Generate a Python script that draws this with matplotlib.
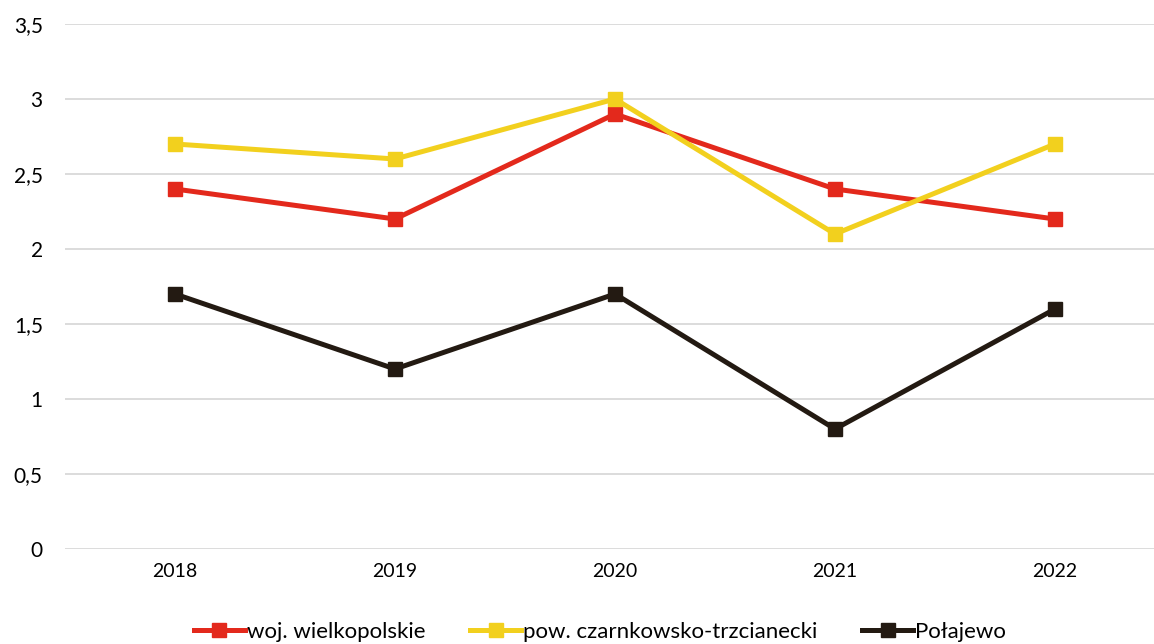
import matplotlib.pyplot as plt

years = ["2018", "2019", "2020", "2021", "2022"]
woj = [2.4, 2.2, 2.9, 2.4, 2.2]
pow_ct = [2.7, 2.6, 3.0, 2.1, 2.7]
polajewo = [1.7, 1.2, 1.7, 0.8, 1.6]
yticks = [0, 0.5, 1, 1.5, 2, 2.5, 3, 3.5]

series = [
    ("woj. wielkopolskie", woj, "#E3291C"),
    ("pow. czarnkowsko-trzcianecki", pow_ct, "#F2D01E"),
    ("Połajewo", polajewo, "#231A12"),
]

plt.rcParams['font.family'] = ['Lato', 'DejaVu Sans']

W, H = 1154, 644
fig = plt.figure(figsize=(W / 100, H / 100), dpi=100)
ax = fig.add_axes([65 / W, (H - 549) / H, (W - 65) / W, (549 - 24) / H])

x = list(range(len(years)))
for name, vals, col in series:
    ax.plot(x, vals, color=col, lw=3.6, marker='s', markersize=10,
            label=name, solid_joinstyle='miter')

ax.set_xlim(-0.5, (W - 175) / 220)
ax.set_ylim(0, 3.5)
ax.set_xticks(x)
ax.set_xticklabels(years)
ax.set_yticks(yticks)
ax.set_yticklabels([f"{v:g}".replace('.', ',') for v in yticks])
ax.tick_params(length=0, labelsize=14, colors='black', pad=10)
ax.tick_params(axis='y', pad=16, labelsize=15)
ax.grid(axis='y', color='#D9D9D9', lw=1.3)
ax.set_axisbelow(True)
for s in ax.spines.values():
    s.set_visible(False)

fig.legend(loc='center', bbox_to_anchor=(600 / W, 1 - 632 / H), ncol=3,
           frameon=False, fontsize=16, handlelength=2.3, handletextpad=0.1,
           columnspacing=2.0, markerscale=1.0)

fig.savefig("out.png", dpi=100)
